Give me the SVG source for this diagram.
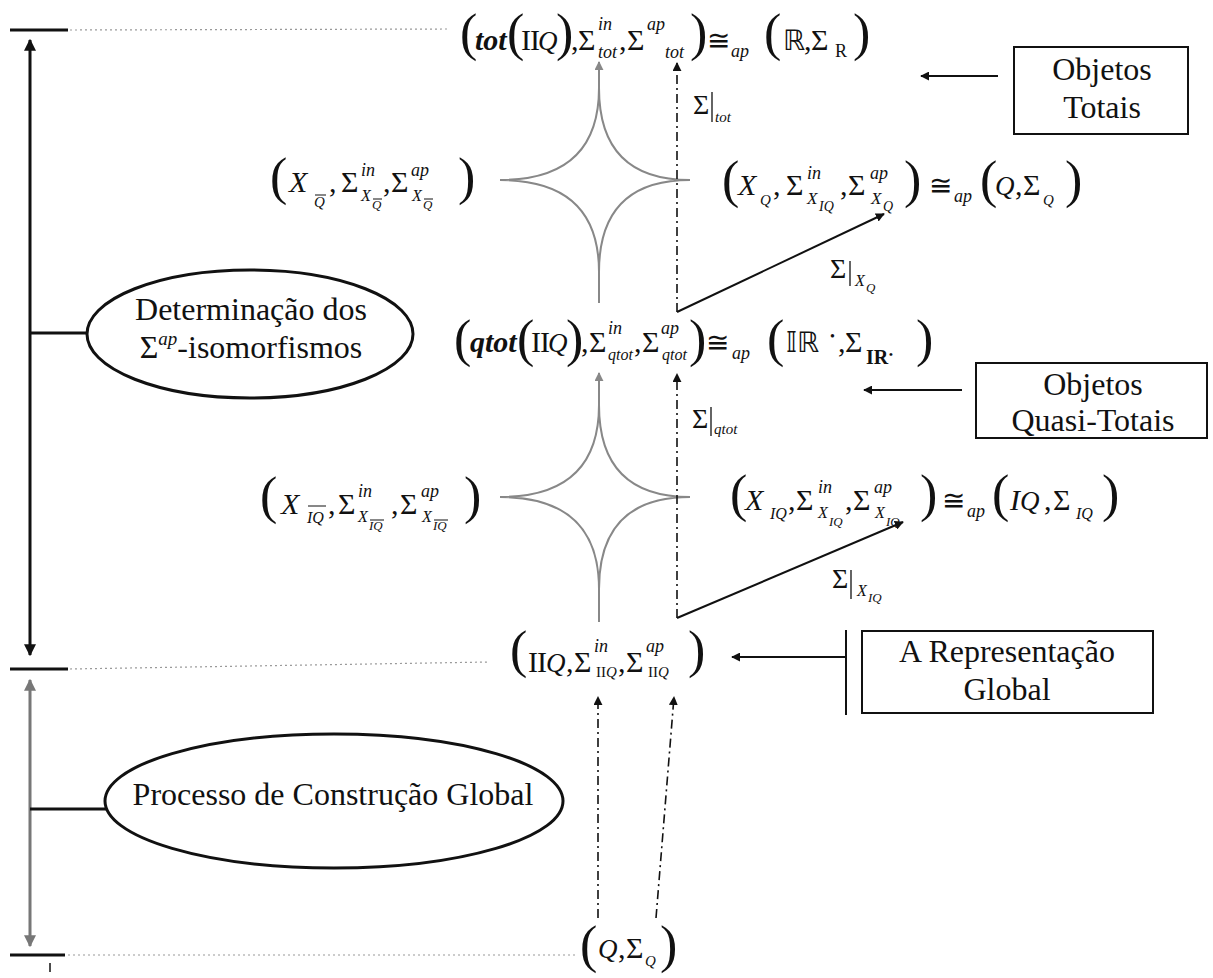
<svg xmlns="http://www.w3.org/2000/svg" width="1213" height="978" viewBox="0 0 1213 978" font-family="'Liberation Serif','Times New Roman',serif">
<style>
text{font-family:"Liberation Serif","Times New Roman","DejaVu Serif",serif;fill:#111;font-size:30px}
.m{font-style:italic;font-size:30px}
.q{font-style:italic;font-size:27px}
.mb{font-style:italic;font-weight:bold;font-size:30px}
.r{font-style:normal;font-size:30px}
.s{font-style:italic;font-size:18px}
.s16{font-style:italic;font-size:16px}
.ss{font-style:italic;font-size:13px}
.sr{font-style:normal;font-size:18px}
.bp{font-style:normal;font-size:52px;letter-spacing:-4px}
.cg{font-style:normal;font-family:"DejaVu Serif","DejaVu Sans",serif;font-size:28px}
.ds{font-style:normal;font-family:"DejaVu Sans","DejaVu Serif",sans-serif;font-size:28px}
.lbl{font-size:32px;text-anchor:middle}
.bar{stroke:#111;stroke-width:1}
.tick{stroke:#111;stroke-width:3}
.dot{stroke:#999;stroke-width:1.2;stroke-dasharray:2,3}
.ell{fill:none;stroke:#111;stroke-width:3}
.box{fill:#fff;stroke:#111;stroke-width:2}
.ar{stroke:#111;stroke-width:2;fill:none}
.dd{stroke:#111;stroke-width:1.6;fill:none;stroke-dasharray:9,4,2,4}
.star{stroke:#888;stroke-width:2;fill:none}
.gl{stroke:#888;stroke-width:2;fill:none}
.rb{stroke:#111;stroke-width:1.3}
</style>
<defs>
<marker id="ah" viewBox="0 0 10 10" refX="9" refY="5" markerWidth="9" markerHeight="9" markerUnits="userSpaceOnUse" orient="auto-start-reverse"><path d="M0,0 L10,5 L0,10 z" fill="#111"/></marker>
<marker id="ahg" viewBox="0 0 10 10" refX="9" refY="5" markerWidth="9" markerHeight="9" markerUnits="userSpaceOnUse" orient="auto-start-reverse"><path d="M0,0 L10,5 L0,10 z" fill="#888"/></marker>
<marker id="ahL" viewBox="0 0 10 10" refX="9" refY="5" markerWidth="12" markerHeight="12" markerUnits="userSpaceOnUse" orient="auto-start-reverse"><path d="M0,0 L10,5 L0,10 z" fill="#111"/></marker>
<marker id="ahLg" viewBox="0 0 10 10" refX="9" refY="5" markerWidth="12" markerHeight="12" markerUnits="userSpaceOnUse" orient="auto-start-reverse"><path d="M0,0 L10,5 L0,10 z" fill="#777"/></marker>
</defs>
<rect width="1213" height="978" fill="#fff"/>

<g id="connectors">
  <line class="tick" x1="10" y1="30" x2="68" y2="30"/>
  <line class="dot" x1="70" y1="30" x2="450" y2="29"/>
  <line class="tick" x1="10" y1="669" x2="68" y2="669"/>
  <line class="dot" x1="70" y1="669" x2="490" y2="662"/>
  <line class="tick" x1="10" y1="955" x2="65" y2="955"/>
  <line class="dot" x1="68" y1="955" x2="578" y2="955"/>
  <line x1="50" y1="963" x2="50" y2="972" stroke="#111" stroke-width="1.5"/>
  <line x1="30" y1="40" x2="30" y2="655" stroke="#111" stroke-width="3" marker-start="url(#ahL)" marker-end="url(#ahL)"/>
  <line x1="30" y1="680" x2="30" y2="946" stroke="#777" stroke-width="3" marker-start="url(#ahLg)" marker-end="url(#ahLg)"/>
  <line x1="30" y1="333" x2="88" y2="333" stroke="#111" stroke-width="3"/>
  <line x1="30" y1="809" x2="106" y2="809" stroke="#111" stroke-width="3"/>
  <path class="star" d="M500,180 Q599,180 599,88 Q599,180 690,180 Q599,180 599,272 Q599,180 500,180 Z"/>
  <path class="star" d="M500,497 Q599,497 599,405 Q599,497 690,497 Q599,497 599,589 Q599,497 500,497 Z"/>
  <line class="gl" x1="599" y1="88" x2="599" y2="62" marker-end="url(#ahg)"/>
  <line class="gl" x1="599" y1="272" x2="599" y2="303"/>
  <line class="gl" x1="599" y1="405" x2="599" y2="373" marker-end="url(#ahg)"/>
  <line class="gl" x1="599" y1="589" x2="599" y2="622"/>
  <line class="dd" x1="677" y1="312" x2="677" y2="63" marker-end="url(#ah)"/>
  <line class="ar" x1="677" y1="312" x2="884" y2="214" marker-end="url(#ah)"/>
  <line class="dd" x1="677" y1="618" x2="677" y2="374" marker-end="url(#ah)"/>
  <line class="ar" x1="677" y1="618" x2="903" y2="522" marker-end="url(#ah)"/>
  <line class="dd" x1="598" y1="918" x2="598" y2="697" marker-end="url(#ah)"/>
  <line class="dd" x1="656" y1="918" x2="674" y2="697" marker-end="url(#ah)"/>
  <line class="ar" x1="998" y1="76" x2="921" y2="76" marker-end="url(#ah)"/>
  <line class="ar" x1="962" y1="390" x2="864" y2="390" marker-end="url(#ah)"/>
  <line class="ar" x1="846" y1="657" x2="732" y2="657" marker-end="url(#ah)"/>
  <line x1="846" y1="630" x2="846" y2="715" stroke="#111" stroke-width="2"/>
</g>

<g id="ellipse-determinacao">
  <ellipse class="ell" cx="250" cy="334" rx="163" ry="64"/>
  <text class="lbl" x="251" y="320">Determinação dos</text>
  <text x="251" y="358" style="font-size:32px;text-anchor:middle">Σ<tspan dy="-13" style="font-size:19px;font-style:italic">ap</tspan><tspan dy="13">-isomorfismos</tspan></text>
</g>

<g id="ellipse-processo">
  <ellipse class="ell" cx="334" cy="801" rx="229" ry="67"/>
  <text class="lbl" x="333" y="805">Processo de Construção Global</text>
</g>

<g id="box-totais">
  <rect class="box" x="1014" y="47" width="174" height="87"/>
  <text class="lbl" x="1102" y="80">Objetos</text>
  <text class="lbl" x="1102" y="118">Totais</text>
</g>
<g id="box-quasi">
  <rect class="box" x="976" y="363" width="231" height="75"/>
  <text class="lbl" x="1093" y="395">Objetos</text>
  <text class="lbl" x="1093" y="431">Quasi-Totais</text>
</g>
<g id="box-global">
  <rect class="box" x="862" y="631" width="291" height="82"/>
  <text class="lbl" x="1007" y="662">A Representação</text>
  <text class="lbl" x="1007" y="700">Global</text>
</g>

<g id="node-tot">
  <text><tspan class="bp" x="460" y="50">(</tspan><tspan class="mb" x="475" y="50">tot</tspan><tspan class="bp" x="507" y="50">(</tspan><tspan class="r" x="521" y="50" letter-spacing="-1">II</tspan><tspan class="q" x="538" y="50">Q</tspan><tspan class="bp" x="556" y="50">)</tspan><tspan class="r" x="571" y="50">,</tspan><tspan class="r" x="578" y="50">Σ</tspan><tspan class="s" x="598" y="30">in</tspan><tspan class="s" x="598" y="58">tot</tspan><tspan class="r" x="619" y="50">,</tspan><tspan class="r" x="627" y="50">Σ</tspan><tspan class="s" x="647" y="30">ap</tspan><tspan class="s" x="665" y="58">tot</tspan><tspan class="bp" x="690" y="50">)</tspan><tspan class="cg" x="707" y="50">≅</tspan><tspan class="s" x="731" y="57">ap</tspan><tspan class="bp" x="764" y="50">(</tspan><tspan class="ds" x="783" y="50">ℝ</tspan><tspan class="r" x="804" y="50">,</tspan><tspan class="r" x="811" y="50">Σ</tspan><tspan class="sr" x="835" y="57">R</tspan><tspan class="bp" x="853" y="50">)</tspan></text>
</g>

<g id="node-xqbar">
  <text><tspan class="bp" x="270" y="194">(</tspan><tspan class="m" x="289" y="192">X</tspan><tspan class="s" x="314" y="207" style="font-size:15px">Q</tspan><tspan class="r" x="329" y="192">,</tspan><tspan class="r" x="341" y="192">Σ</tspan><tspan class="s" x="361" y="176">in</tspan><tspan class="s16" x="361" y="201">X</tspan><tspan class="ss" x="372" y="209">Q</tspan><tspan class="r" x="383" y="192">,</tspan><tspan class="r" x="391" y="192">Σ</tspan><tspan class="s" x="411" y="176">ap</tspan><tspan class="s16" x="412" y="201">X</tspan><tspan class="ss" x="423" y="209">Q</tspan><tspan class="bp" x="458" y="194">)</tspan></text>
  <line class="bar" x1="315" y1="195" x2="326" y2="195"/>
  <line class="bar" x1="373" y1="199" x2="382" y2="199"/>
  <line class="bar" x1="424" y1="199" x2="433" y2="199"/>
</g>

<g id="node-xq">
  <text><tspan class="bp" x="722" y="197">(</tspan><tspan class="m" x="738" y="195">X</tspan><tspan class="s" x="760" y="205" style="font-size:15px">Q</tspan><tspan class="r" x="773" y="195">,</tspan><tspan class="r" x="786" y="195">Σ</tspan><tspan class="s" x="807" y="179">in</tspan><tspan class="s" x="807" y="204" style="font-size:17px">X</tspan><tspan class="ss" x="819" y="211" style="font-size:14px">IQ</tspan><tspan class="r" x="840" y="195">,</tspan><tspan class="r" x="848" y="195">Σ</tspan><tspan class="s" x="870" y="179">ap</tspan><tspan class="s" x="871" y="204" style="font-size:17px">X</tspan><tspan class="ss" x="883" y="211" style="font-size:14px">Q</tspan><tspan class="bp" x="904" y="197">)</tspan><tspan class="cg" x="929" y="195">≅</tspan><tspan class="s" x="954" y="202">ap</tspan><tspan class="bp" x="980" y="197">(</tspan><tspan class="q" x="995" y="195">Q</tspan><tspan class="r" x="1015" y="195">,</tspan><tspan class="r" x="1023" y="195">Σ</tspan><tspan class="s" x="1043" y="205" style="font-size:15px">Q</tspan><tspan class="bp" x="1065" y="197">)</tspan></text>
</g>

<g id="node-qtot">
  <text><tspan class="bp" x="454" y="356">(</tspan><tspan class="mb" x="470" y="352">qtot</tspan><tspan class="bp" x="517" y="356">(</tspan><tspan class="r" x="531" y="352" letter-spacing="-1">II</tspan><tspan class="q" x="548" y="352">Q</tspan><tspan class="bp" x="566" y="356">)</tspan><tspan class="r" x="581" y="352">,</tspan><tspan class="r" x="589" y="352">Σ</tspan><tspan class="s" x="608" y="334">in</tspan><tspan class="s16" x="608" y="360">qtot</tspan><tspan class="r" x="634" y="352">,</tspan><tspan class="r" x="642" y="352">Σ</tspan><tspan class="s" x="661" y="334">ap</tspan><tspan class="s16" x="662" y="360">qtot</tspan><tspan class="bp" x="689" y="356">)</tspan><tspan class="cg" x="706" y="352">≅</tspan><tspan class="s" x="732" y="359">ap</tspan><tspan class="bp" x="767" y="356">(</tspan><tspan class="ds" x="786" y="352">𝕀ℝ</tspan><tspan class="r" x="830" y="341" style="font-size:14px">•</tspan><tspan class="r" x="838" y="352">,</tspan><tspan class="r" x="845" y="352">Σ</tspan><tspan class="r" x="866" y="364" style="font-size:20px;font-weight:bold">IR</tspan><tspan class="r" x="889" y="358" style="font-size:11px;font-weight:bold">•</tspan><tspan class="bp" x="916" y="356">)</tspan></text>
</g>

<g id="node-xiqbar">
  <text><tspan class="bp" x="260" y="513">(</tspan><tspan class="m" x="281" y="514">X</tspan><tspan class="s16" x="307" y="523">IQ</tspan><tspan class="r" x="328" y="514">,</tspan><tspan class="r" x="338" y="514">Σ</tspan><tspan class="s" x="358" y="497">in</tspan><tspan class="s16" x="358" y="522">X</tspan><tspan class="ss" x="369" y="530">IQ</tspan><tspan class="r" x="391" y="514">,</tspan><tspan class="r" x="400" y="514">Σ</tspan><tspan class="s" x="421" y="497">ap</tspan><tspan class="s16" x="422" y="522">X</tspan><tspan class="ss" x="433" y="530">IQ</tspan><tspan class="bp" x="464" y="513">)</tspan></text>
  <line class="bar" x1="308" y1="506" x2="326" y2="506"/>
  <line class="bar" x1="370" y1="520" x2="384" y2="520"/>
  <line class="bar" x1="434" y1="520" x2="448" y2="520"/>
</g>

<g id="node-xiq">
  <text><tspan class="bp" x="730" y="511">(</tspan><tspan class="m" x="745" y="510">X</tspan><tspan class="s16" x="770" y="519">IQ</tspan><tspan class="r" x="788" y="510">,</tspan><tspan class="r" x="796" y="510">Σ</tspan><tspan class="s" x="818" y="493">in</tspan><tspan class="s16" x="818" y="518">X</tspan><tspan class="ss" x="829" y="526">IQ</tspan><tspan class="r" x="845" y="510">,</tspan><tspan class="r" x="853" y="510">Σ</tspan><tspan class="s" x="874" y="493">ap</tspan><tspan class="s16" x="875" y="518">X</tspan><tspan class="ss" x="886" y="526">IQ</tspan><tspan class="bp" x="920" y="511">)</tspan><tspan class="cg" x="942" y="510">≅</tspan><tspan class="s" x="967" y="517">ap</tspan><tspan class="bp" x="992" y="511">(</tspan><tspan class="m" x="1010" y="510">I</tspan><tspan class="q" x="1020" y="510">Q</tspan><tspan class="r" x="1044" y="510">,</tspan><tspan class="r" x="1053" y="510">Σ</tspan><tspan class="s16" x="1076" y="519">IQ</tspan><tspan class="bp" x="1102" y="511">)</tspan></text>
</g>

<g id="node-iiq">
  <text><tspan class="bp" x="510" y="667">(</tspan><tspan class="r" x="528" y="672" letter-spacing="-1">II</tspan><tspan class="q" x="546" y="672">Q</tspan><tspan class="r" x="566" y="672">,</tspan><tspan class="r" x="574" y="672">Σ</tspan><tspan class="s" x="594" y="652">in</tspan><tspan class="sr" x="596" y="677" style="font-size:15px">II</tspan><tspan class="s" x="606" y="677" style="font-size:15px">Q</tspan><tspan class="r" x="618" y="672">,</tspan><tspan class="r" x="626" y="672">Σ</tspan><tspan class="s" x="646" y="652">ap</tspan><tspan class="sr" x="648" y="677" style="font-size:15px">II</tspan><tspan class="s" x="658" y="677" style="font-size:15px">Q</tspan><tspan class="bp" x="688" y="667">)</tspan></text>
</g>

<g id="node-q">
  <text><tspan class="bp" x="580" y="962">(</tspan><tspan class="q" x="598" y="958">Q</tspan><tspan class="r" x="618" y="958">,</tspan><tspan class="r" x="626" y="958">Σ</tspan><tspan class="s" x="645" y="966" style="font-size:15px">Q</tspan><tspan class="bp" x="660" y="962">)</tspan></text>
</g>

<g id="label-tot">
  <text><tspan class="r" x="693" y="114" style="font-size:28px">Σ</tspan><tspan class="s" x="715" y="122" style="font-size:15px">tot</tspan></text>
  <line class="rb" x1="712" y1="92" x2="712" y2="122"/>
</g>
<g id="label-xq">
  <text><tspan class="r" x="830" y="278" style="font-size:28px">Σ</tspan><tspan class="s16" x="855" y="286">X</tspan><tspan class="ss" x="866" y="292">Q</tspan></text>
  <line class="rb" x1="850" y1="261" x2="850" y2="286"/>
</g>
<g id="label-qtot">
  <text><tspan class="r" x="692" y="428" style="font-size:28px">Σ</tspan><tspan class="s" x="714" y="434" style="font-size:15px">qtot</tspan></text>
  <line class="rb" x1="711" y1="407" x2="711" y2="436"/>
</g>
<g id="label-xiq">
  <text><tspan class="r" x="832" y="588" style="font-size:28px">Σ</tspan><tspan class="s16" x="857" y="596">X</tspan><tspan class="ss" x="868" y="602">IQ</tspan></text>
  <line class="rb" x1="851" y1="570" x2="851" y2="599"/>
</g>
</svg>
